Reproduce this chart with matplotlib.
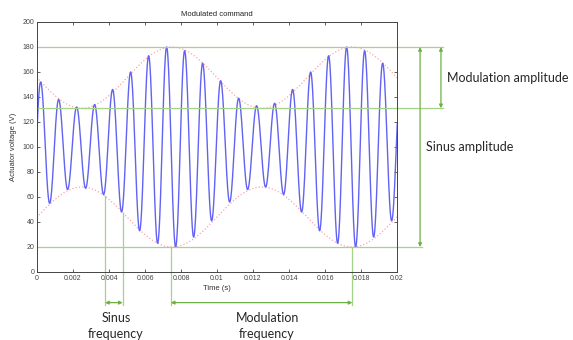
import numpy as np
import matplotlib
matplotlib.use("Agg")
import matplotlib.pyplot as plt

# carrier extrema (time in s, voltage in V)
peak_t = [0.0002, 0.0012, 0.0022, 0.0032, 0.0042, 0.0052, 0.0062, 0.0072, 0.0082, 0.0092,
          0.0102, 0.0112, 0.0122, 0.0132, 0.0142, 0.0152, 0.0162, 0.0172, 0.0182, 0.0192, 0.0202]
peak_v = [152, 138, 132, 134, 146, 160, 173, 180, 177, 167,
          153, 139, 133, 135, 146, 160, 173, 180, 177, 167, 153]
trough_t = [-0.0003, 0.0007, 0.0017, 0.0027, 0.0037, 0.0047, 0.0057, 0.0067, 0.0077, 0.0087,
            0.0097, 0.0107, 0.0117, 0.0127, 0.0137, 0.0147, 0.0157, 0.0167, 0.0177, 0.0187, 0.0197]
trough_v = [40, 55, 66, 67, 62, 48, 33, 23, 20, 28,
            41, 56, 66, 68, 62, 48, 33, 23, 20, 28, 41]

# envelope extrema
env_t = [-0.0025, 0.0025, 0.0075, 0.0125, 0.0175, 0.0225]
env_upper = [180, 131, 180, 131, 180, 131]
env_lower = [20, 68, 20, 68, 20, 68]

# annotation levels
amp_levels = [180, 131, 20]
sinus_marks_t = [0.00378, 0.00476]
sinus_marks_v = [61, 47]
mod_marks_t = [0.00743, 0.01752]
mod_marks_v = [20, 20]

GREEN_LIGHT = '#a3d488'
GREEN = '#6fb043'


def smooth_through(kt, kv, n=40):
    # half-cosine transition between consecutive extrema
    ts, vs = [], []
    for i in range(len(kt) - 1):
        s = np.linspace(0, 1, n, endpoint=False)
        ts.append(kt[i] + (kt[i + 1] - kt[i]) * s)
        vs.append(kv[i] + (kv[i + 1] - kv[i]) * (1 - np.cos(np.pi * s)) / 2)
    ts.append([kt[-1]])
    vs.append([kv[-1]])
    return np.concatenate(ts), np.concatenate(vs)


knots = sorted(zip(peak_t + trough_t, peak_v + trough_v))
sig_t, sig_v = smooth_through([k[0] for k in knots], [k[1] for k in knots])
up_t, up_v = smooth_through(env_t, env_upper, 200)
lo_t, lo_v = smooth_through(env_t, env_lower, 200)

plt.rcParams['font.family'] = 'Liberation Sans'
fig = plt.figure(figsize=(5.73, 3.40), dpi=100)
ax = fig.add_axes([0.0646, 0.2, 0.6283, 0.7353])

ax.plot(up_t, up_v, ':', color='#ffa3a3', lw=0.9)
ax.plot(lo_t, lo_v, ':', color='#ffa3a3', lw=0.9)
ax.plot(sig_t, sig_v, color='#6262f3', lw=1.0)

ax.set_xlim(0, 0.02)
ax.set_ylim(0, 200)
ax.set_xticks(np.arange(0, 0.0201, 0.002))
ax.set_xticklabels(['0', '0.002', '0.004', '0.006', '0.008', '0.01',
                    '0.012', '0.014', '0.016', '0.018', '0.02'])
ax.set_yticks(np.arange(0, 201, 20))
ax.tick_params(direction='in', top=True, right=True, length=2.5, width=0.6,
               labelsize=5, colors='#444444', pad=2)
for sp in ax.spines.values():
    sp.set_color('#444444')
    sp.set_linewidth(0.7)
ax.set_title('Modulated command', fontsize=5.5, color='#222222', pad=4)
ax.set_xlabel('Time (s)', fontsize=5.5, color='#333333', labelpad=2)
ax.set_ylabel('Actuator voltage (V)', fontsize=5.5, color='#333333', labelpad=4)

# green guide lines (outside the axes too)
ax.plot([0, 0.02256], [amp_levels[0]] * 2, color=GREEN_LIGHT, lw=0.9, clip_on=False)
ax.plot([0, 0.02256], [amp_levels[1]] * 2, color=GREEN_LIGHT, lw=0.9, clip_on=False)
ax.plot([0, 0.02139], [amp_levels[2]] * 2, color=GREEN_LIGHT, lw=0.9, clip_on=False)
for t, v in zip(sinus_marks_t + mod_marks_t, sinus_marks_v + mod_marks_v):
    ax.plot([t, t], [v, -26.5], color=GREEN_LIGHT, lw=0.9, clip_on=False)

arrow = dict(arrowstyle='<|-|>', color=GREEN, lw=0.9, mutation_scale=5,
             shrinkA=0, shrinkB=0)
ax.annotate('', xy=(0.02244, amp_levels[0]), xytext=(0.02244, amp_levels[1]),
            arrowprops=arrow, annotation_clip=False)
ax.annotate('', xy=(0.02128, amp_levels[0]), xytext=(0.02128, amp_levels[2]),
            arrowprops=arrow, annotation_clip=False)
ax.annotate('', xy=(sinus_marks_t[0], -24.5), xytext=(sinus_marks_t[1], -24.5),
            arrowprops=arrow, annotation_clip=False)
ax.annotate('', xy=(mod_marks_t[0], -24.5), xytext=(mod_marks_t[1], -24.5),
            arrowprops=arrow, annotation_clip=False)

txt = dict(fontsize=9, color='#262626', family='Lato', clip_on=False)
ax.text(0.02278, 155, 'Modulation amplitude', ha='left', va='center', **txt)
ax.text(0.02161, 100, 'Sinus amplitude', ha='left', va='center', **txt)
ax.text(0.00439, -43.5, 'Sinus\nfrequency', ha='center', va='center', linespacing=1.4, **txt)
ax.text(0.01278, -43.5, 'Modulation\nfrequency', ha='center', va='center', linespacing=1.4, **txt)

fig.savefig('out.png', dpi=100)
